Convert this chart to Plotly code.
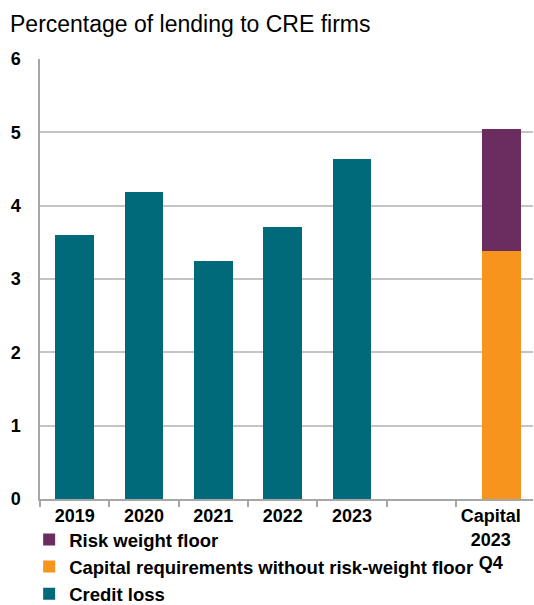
import plotly.graph_objects as go

# Category labels along the x axis (one empty slot before the capital bar)
categories = ["2019", "2020", "2021", "2022", "2023", "", "Capital<br>2023<br>Q4"]

# Credit loss by year, per cent of lending to CRE firms
years = ["2019", "2020", "2021", "2022", "2023"]
credit_loss = [3.60, 4.19, 3.25, 3.71, 4.63]

# Capital stack for 2023 Q4
capital_without_floor = [3.38]
risk_weight_floor = [1.67]

y_ticks = [0, 1, 2, 3, 4, 5, 6]

TEAL = "#006A7A"
ORANGE = "#F7941D"
PURPLE = "#6B2C5F"
GRID = "#c4c4c4"
FONT = "Liberation Sans, Arial, sans-serif"

pos = {c: i for i, c in enumerate(categories)}
year_x = [pos[y] for y in years]
cap_x = [pos["Capital<br>2023<br>Q4"] + 0.15]
bar_w = 0.56

fig = go.Figure()
fig.add_trace(go.Bar(x=year_x, y=credit_loss, width=bar_w, name="Credit loss",
                     marker=dict(color=TEAL, line=dict(width=0))))
fig.add_trace(go.Bar(x=cap_x, y=capital_without_floor, width=bar_w,
                     name="Capital requirements without risk-weight floor",
                     marker=dict(color=ORANGE, line=dict(width=0))))
fig.add_trace(go.Bar(x=cap_x, y=risk_weight_floor, width=bar_w,
                     name="Risk weight floor",
                     marker=dict(color=PURPLE, line=dict(width=0))))

fig.update_layout(
    width=534, height=605,
    margin=dict(l=40, r=1, t=59, b=106, autoexpand=False),
    barmode="stack",
    plot_bgcolor="white", paper_bgcolor="white",
    font=dict(family=FONT, color="black"),
    showlegend=True,
    legend=dict(
        x=-0.022, y=-0.05, xanchor="left", yanchor="top",
        traceorder="reversed", orientation="v",
        font=dict(size=18.5, family=FONT, color="black", weight="bold"),
        bgcolor="rgba(0,0,0,0)", itemwidth=30,
    ),
    annotations=[dict(
        text="Percentage of lending to CRE firms",
        xref="paper", yref="paper", x=-40 / 493, y=1 + 20 / 440,
        xanchor="left", yanchor="bottom", showarrow=False,
        font=dict(size=23, family=FONT, color="black"),
        xshift=8,
    )],
)

fig.update_xaxes(
    range=[-0.5, 6.61],
    tickmode="array",
    tickvals=list(range(len(categories))),
    ticktext=categories,
    ticks="",
    tickfont=dict(size=18, family=FONT, color="black", weight="bold"),
    showgrid=False,
    showline=True, linecolor="#a6a6a6", linewidth=1.5,
    minor=dict(tickmode="array",
               tickvals=[i - 0.5 for i in range(len(categories))],
               ticks="outside", ticklen=6, tickcolor="#a6a6a6", tickwidth=1.5,
               showgrid=False),
    zeroline=False,
    fixedrange=True,
)

fig.update_yaxes(
    range=[0, 6],
    tickmode="array", tickvals=y_ticks, ticktext=[str(v) for v in y_ticks],
    ticks="",
    ticklabelstandoff=14,
    tickfont=dict(size=18, family=FONT, color="black", weight="bold"),
    showgrid=True, gridcolor=GRID, gridwidth=1.8,
    showline=True, linecolor="#a6a6a6", linewidth=1.5,
    zeroline=False,
    fixedrange=True,
)

fig.write_html("out.html")
